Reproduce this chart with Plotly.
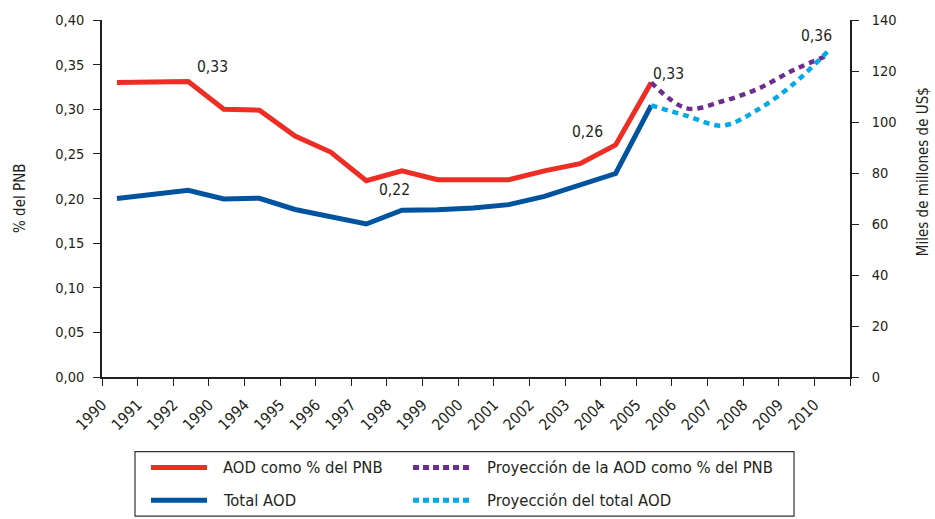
import plotly.graph_objects as go

# ---------------- data ----------------
years = list(range(1990, 2011))
tick_labels = ["1990", "1991", "1992", "1990", "1994", "1995", "1996", "1997", "1998",
               "1999", "2000", "2001", "2002", "2003", "2004", "2005", "2006", "2007",
               "2008", "2009", "2010"]

hist_years = list(range(1990, 2006))
aod_pct_pnb = [0.330, 0.330, 0.331, 0.300, 0.299, 0.270, 0.252, 0.220, 0.231, 0.221,
               0.221, 0.221, 0.231, 0.239, 0.260, 0.330]
total_aod = [70.0, 71.7, 73.2, 69.8, 70.1, 65.7, 63.0, 60.0, 65.4, 65.6,
             66.3, 67.6, 70.8, 75.5, 79.8, 106.5]

proj_years = list(range(2005, 2011))
proj_pct_pnb = [0.330, 0.301, 0.309, 0.323, 0.344, 0.361]
proj_total_aod = [106.5, 102.4, 98.6, 104.9, 115.0, 128.3]

value_labels = ["0,33", "0,22", "0,26", "0,33", "0,36"]

# ---------------- styling ----------------
W, H = 935, 519
ML, MR, MT, MB = 102, 85, 18, 142
PW, PH = W - ML - MR, H - MT - MB
RED, BLUE, PURPLE, CYAN = "#EE2E24", "#00539F", "#6E2C8F", "#00A9E8"
INK = "#231F20"
FONT = "DejaVu Sans Condensed, Liberation Sans Narrow, sans-serif"
OFFSET = 0.42  # position of a year's point inside its band


def xpos(ys):
    return [y - years[0] + OFFSET for y in ys]


def px(xp):
    return (xp - ML) / PW


def py(yp):
    return (H - MB - yp) / PH


fig = go.Figure()
fig.add_trace(go.Scatter(x=xpos(hist_years), y=aod_pct_pnb, mode="lines",
                         line=dict(color=RED, width=5), name="AOD como % del PNB",
                         showlegend=False))
fig.add_trace(go.Scatter(x=xpos(proj_years), y=proj_pct_pnb, mode="lines",
                         line=dict(color=PURPLE, width=4.5, dash="6px,5px", shape="spline"),
                         name="Proyección de la AOD como % del PNB", showlegend=False))
fig.add_trace(go.Scatter(x=xpos(hist_years), y=total_aod, mode="lines", yaxis="y2",
                         line=dict(color=BLUE, width=5), name="Total AOD",
                         showlegend=False))
fig.add_trace(go.Scatter(x=xpos(proj_years), y=proj_total_aod, mode="lines", yaxis="y2",
                         line=dict(color=CYAN, width=4.5, dash="6px,5px", shape="spline"),
                         name="Proyección del total AOD", showlegend=False))

# value labels (placed above/below the line points)
label_pos = [(3.09, 0.347), (8.22, 0.210), (13.63, 0.274), (15.90, 0.340), (20.05, 0.3825)]
annotations = []
for t, (ax_, ay_) in zip(value_labels, label_pos):
    annotations.append(dict(x=ax_, y=ay_, xref="x", yref="y", text=t, showarrow=False,
                            xanchor="center", yanchor="middle",
                            font=dict(family=FONT, size=15.5, color=INK)))

# axis titles
annotations.append(dict(x=px(20), y=py(197), xref="paper", yref="paper", text="% del PNB",
                        textangle=-90, showarrow=False, xanchor="center", yanchor="middle",
                        font=dict(family=FONT, size=15, color=INK)))
annotations.append(dict(x=px(923), y=py(171), xref="paper", yref="paper",
                        text="Miles de millones de US$", textangle=-90, showarrow=False,
                        xanchor="center", yanchor="middle",
                        font=dict(family=FONT, size=15, color=INK)))

# manual legend
shapes = [dict(type="rect", xref="paper", yref="paper", x0=px(135), x1=px(794),
               y0=py(452), y1=py(517), line=dict(color="#333333", width=1.2))]
legend_items = [
    ("AOD como % del PNB", RED, None, 151, 207, 221, 468),
    ("Proyección de la AOD como % del PNB", PURPLE, "6px,4px", 413, 473, 485, 468),
    ("Total AOD", BLUE, None, 151, 207, 221, 501),
    ("Proyección del total AOD", CYAN, "6px,4px", 413, 473, 485, 501),
]
for name, col, dash, x0, x1, tx, yy in legend_items:
    ln = dict(color=col, width=5)
    if dash:
        ln["dash"] = dash
    shapes.append(dict(type="line", xref="paper", yref="paper", x0=px(x0), x1=px(x1),
                       y0=py(yy), y1=py(yy), line=ln))
    annotations.append(dict(x=px(tx), y=py(yy), xref="paper", yref="paper", text=name,
                            xanchor="left", yanchor="middle", showarrow=False,
                            font=dict(family=FONT, size=16.5, color=INK)))

axis_common = dict(ticks="outside", ticklen=7, tickwidth=1.2, tickcolor=INK,
                   showline=True, linecolor=INK, linewidth=1.5, showgrid=False,
                   zeroline=False)

fig.update_layout(
    width=W, height=H,
    margin=dict(l=ML, r=MR, t=MT, b=MB),
    paper_bgcolor="white", plot_bgcolor="white",
    separators=",.",
    showlegend=False,
    font=dict(family=FONT, size=14.5, color=INK),
    xaxis=dict(range=[0, len(years)], tickmode="array",
               tickvals=list(range(len(years) + 1)), ticktext=tick_labels + [""],
               tickangle=-45, ticklabelstandoff=4,
               tickfont=dict(family=FONT, size=15.5, color=INK), **axis_common),
    yaxis=dict(range=[0, 0.40], tickmode="linear", tick0=0, dtick=0.05, tickformat=".2f",
               ticklabelstandoff=6, tickfont=dict(family=FONT, size=14.5, color=INK),
               **axis_common),
    yaxis2=dict(range=[0, 140], tickmode="linear", tick0=0, dtick=20, overlaying="y",
                side="right", ticklabelstandoff=10,
                tickfont=dict(family=FONT, size=14.5, color=INK), **axis_common),
    annotations=annotations,
    shapes=shapes,
)

fig.write_html("out.html", config={"displayModeBar": False},
               post_script="document.body.style.margin='0';document.body.style.padding='0';")
